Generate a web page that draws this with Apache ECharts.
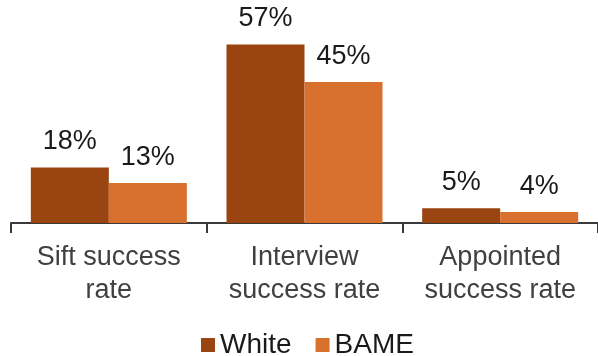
<!DOCTYPE html>
<html>
<head>
<meta charset="utf-8">
<script src="https://cdn.jsdelivr.net/npm/echarts@6/dist/echarts.min.js"></script>
<style>
html,body{margin:0;padding:0;background:#fff;}
#chart{width:598px;height:356px;}
</style>
</head>
<body>
<div id="chart"></div>
<script>
var categories = ['Sift success\nrate', 'Interview\nsuccess rate', 'Appointed\nsuccess rate'];
var seriesNames = ['White', 'BAME'];
var whiteValues = [17.7, 57, 4.7];
var bameValues = [12.8, 45, 3.5];

var FONT = '"Liberation Sans", Arial, sans-serif';
var chart = echarts.init(document.getElementById('chart'), null, {renderer: 'canvas'});
var labelOpt = {
  show: true,
  position: 'top',
  distance: 12,
  fontFamily: FONT,
  fontSize: 27,
  color: '#1a1a1a',
  formatter: function (p) { return Math.round(p.value) + '%'; }
};
chart.setOption({
  animation: false,
  backgroundColor: '#ffffff',
  grid: {left: 11, right: -1, top: 35, bottom: 133, containLabel: false},
  legend: {
    data: seriesNames,
    left: 196,
    top: 326,
    itemWidth: 14,
    itemHeight: 14,
    itemGap: 24,
    icon: 'rect',
    textStyle: {fontFamily: FONT, fontSize: 28, color: '#1a1a1a'}
  },
  xAxis: {
    type: 'category',
    data: categories,
    axisLine: {lineStyle: {color: '#3a3a3a', width: 2}},
    axisTick: {show: true, length: 10, lineStyle: {color: '#3a3a3a', width: 2}},
    axisLabel: {
      fontFamily: FONT,
      fontSize: 27,
      lineHeight: 33,
      color: '#404040',
      margin: 18,
      interval: 0
    }
  },
  yAxis: {
    type: 'value',
    min: 0,
    max: 60,
    show: false,
    splitLine: {show: false}
  },
  series: [
    {
      name: seriesNames[0],
      type: 'bar',
      data: whiteValues,
      barWidth: 78,
      barGap: '0%',
      itemStyle: {color: '#9a4511'},
      label: labelOpt
    },
    {
      name: seriesNames[1],
      type: 'bar',
      data: bameValues,
      barWidth: 78,
      barGap: '0%',
      itemStyle: {color: '#d8702e'},
      label: labelOpt
    }
  ]
});
</script>
</body>
</html>
